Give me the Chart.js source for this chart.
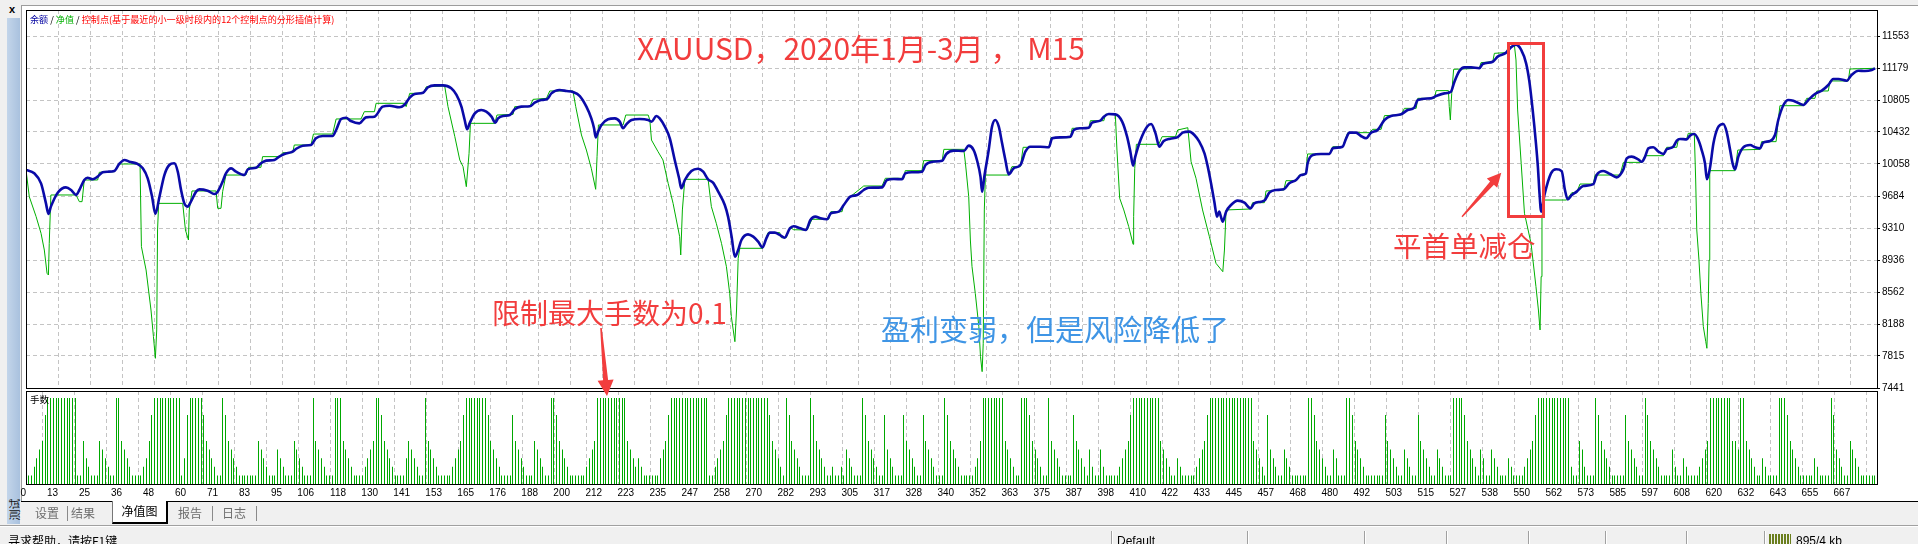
<!DOCTYPE html>
<html>
<head>
<meta charset="utf-8">
<script src="https://cdn.jsdelivr.net/npm/chart.js@4.4.1/dist/chart.umd.min.js"></script>
<style>
html, body { margin: 0; padding: 0; }
body {
  width: 1918px; height: 544px; position: relative; overflow: hidden;
  background: #f0f0f0; font-family: "Noto Sans CJK SC", "Liberation Sans", sans-serif;
}
#frame { position: absolute; left: 21px; top: 5px; width: 1897px; height: 496px; background: #fff;
  border-left: 1px solid #9c9c9c; border-top: 1px solid #9c9c9c; box-sizing: border-box; }
#closeX { position: absolute; left: 9px; top: 3px; font: bold 11px "Liberation Sans", sans-serif; color: #000; }
#sideStrip { position: absolute; left: 7px; top: 18px; width: 13px; height: 506px;
  background: linear-gradient(to right, #c3d5ea, #a9c1de); }
#sideStrip span { position: absolute; left: -6px; top: 485px; width: 26px; font-size: 11px; line-height: 13px;
  transform: rotate(-90deg); color: #111; text-align: center; }
canvas { position: absolute; left: 0; }
#equityChart { top: 0; }
#lotsChart { top: 380px; }
#legend { position: absolute; left: 30px; top: 12px; font-size: 9.1px; line-height: 14px; white-space: nowrap; }
#lotsLabel { position: absolute; left: 30px; top: 393px; font-size: 9.5px; line-height: 12px; color: #000; }
.note { position: absolute; white-space: nowrap; line-height: 1; font-family: "Noto Sans CJK SC", sans-serif; }
#redBox { position: absolute; left: 1507px; top: 42px; width: 38px; height: 176px; border: 3px solid #f23d3d; box-sizing: border-box; }
#arrows { position: absolute; left: 0; top: 0; }
#tabbar { position: absolute; left: 21px; top: 501px; width: 1897px; height: 23px; border-top: 1px solid #000; box-sizing: border-box; }
.tab { position: absolute; top: 3px; font-size: 12px; line-height: 16px; color: #6d6d6d; }
.sep { position: absolute; top: 4px; width: 1px; height: 15px; background: #8a8a8a; }
#activeTab { position: absolute; left: 91px; top: -1px; width: 56px; height: 23px; background: #fff; box-sizing: border-box;
  border-left: 1px solid #777; border-right: 2px solid #000; border-bottom: 2px solid #000;
  font-size: 12px; line-height: 20px; text-align: center; color: #000; }
#status { position: absolute; left: 0; top: 525px; width: 1918px; height: 19px; border-top: 1px solid #a0a0a0; box-shadow: inset 0 1px 0 #fff; }
.stxt { position: absolute; top: 8px; font-size: 12px; line-height: 14px; color: #000; }
.ssep { position: absolute; top: 5px; width: 1px; height: 14px; background: #a0a0a0; border-right: 1px solid #fff; }
#netIcon { position: absolute; left: 1769px; top: 8px; width: 22px; height: 11px;
  background: repeating-linear-gradient(to right, #6b7f1e 0 2px, #f0f0f0 2px 3px); }
</style>
</head>
<body>
<div id="frame"></div>
<div id="closeX">x</div>
<div id="sideStrip"><span>测试</span></div>

<canvas id="equityChart" width="1918" height="400" style="width:1918px;height:400px"></canvas>
<canvas id="lotsChart" width="1918" height="130" style="width:1918px;height:130px"></canvas>

<div id="legend"><span style="color:#0000a0">余额</span> / <span style="color:#00b000">净值</span> / <span style="color:#ff0000">控制点(基于最近的小一级时段内的12个控制点的分形插值计算)</span></div>
<div id="lotsLabel">手数</div>

<div class="note" style="left:637px;top:32px;font-size:30px;color:#f23d3d">XAUUSD，2020年1月-3月 ， M15</div>
<div class="note" style="left:492px;top:298px;font-size:28px;color:#f23d3d">限制最大手数为0.1</div>
<div class="note" style="left:881px;top:314px;font-size:29px;color:#3f95e5">盈利变弱，但是风险降低了</div>
<div class="note" style="left:1393px;top:231px;font-size:28.5px;color:#f23d3d">平首单减仓</div>
<div id="redBox"></div>
<svg id="arrows" width="1918" height="544">
  <polygon fill="#f23d3d" points="600.2,328 601.8,328 608.1,380 613.6,379.4 607,396 597.6,380.8 603.1,380.3"/>
  <polygon fill="#f23d3d" points="1461.5,216.2 1490.1,181.4 1486.8,178.4 1501.3,172.7 1497.2,187.8 1493.9,184.8 1462.5,217.2"/>
</svg>

<div id="tabbar">
  <span class="tab" style="left:14px">设置</span>
  <span class="sep" style="left:46px"></span>
  <span class="tab" style="left:50px">结果</span>
  <div id="activeTab">净值图</div>
  <span class="tab" style="left:157px">报告</span>
  <span class="sep" style="left:191px"></span>
  <span class="tab" style="left:201px">日志</span>
  <span class="sep" style="left:235px"></span>
</div>

<div id="status">
  <span class="stxt" style="left:8px">寻求帮助，请按F1键</span>
  <span class="ssep" style="left:1111px"></span>
  <span class="stxt" style="left:1117px;font-family:'Liberation Sans',sans-serif">Default</span>
  <span class="ssep" style="left:1247px"></span>
  <span class="ssep" style="left:1364px"></span>
  <span class="ssep" style="left:1446px"></span>
  <span class="ssep" style="left:1528px"></span>
  <span class="ssep" style="left:1605px"></span>
  <span class="ssep" style="left:1686px"></span>
  <span class="ssep" style="left:1764px"></span>
  <span id="netIcon"></span>
  <span class="stxt" style="left:1796px;font-family:'Liberation Sans',sans-serif">895/4 kb</span>
</div>

<script>
// axis labels as printed by the tester
const xTickLabels = [0, 13, 25, 36, 48, 60, 71, 83, 95, 106, 118, 130, 141, 153, 165, 176, 188, 200, 212, 223,
  235, 247, 258, 270, 282, 293, 305, 317, 328, 340, 352, 363, 375, 387, 398, 410, 422, 433, 445, 457,
  468, 480, 492, 503, 515, 527, 538, 550, 562, 573, 585, 597, 608, 620, 632, 643, 655, 667];
const yTickLabels = [7441, 7815, 8188, 8562, 8936, 9310, 9684, 10058, 10432, 10805, 11179, 11553];

// balance curve: [trade no, value]
const balancePoints = [
  [0,9988],[3,9949],[5.5,9832],[7.3,9598],[8.2,9474],[9.1,9560],[11.6,9723],[14.6,9785],[16.5,9754],[18.3,9696],
  [19.5,9754],[21.3,9871],[22.5,9898],[24.4,9879],[26.2,9910],[28,9961],[29.9,9968],[32.3,9976],[34.1,10058],[36,10105],
  [37.8,10085],[40.8,10058],[42.7,10007],[44.5,9891],[46.1,9676],[47.3,9474],[48.8,9676],[50.6,9929],[52.4,10046],[54.2,10066],
  [55.5,9968],[56.7,9754],[57.9,9598],[59.1,9560],[60.3,9618],[62.2,9735],[63.4,9762],[66.4,9746],[68.9,9707],[70.1,9735],
  [71.9,9852],[73.1,9949],[75,10007],[76.8,9968],[79.9,9929],[81.1,9996],[84.1,10015],[85.9,10066],[87.8,10097],[90.8,10105],
  [92.6,10144],[94.5,10175],[97.5,10202],[98.7,10233],[101.2,10272],[104.2,10280],[106,10358],[108.5,10385],[112.1,10385],[113.4,10455],
  [115.2,10584],[117,10599],[118.8,10560],[121.9,10533],[124.3,10603],[127.4,10611],[130.4,10728],[132.9,10739],[136.5,10720],[138.3,10747],
  [140.4,10837],[142.1,10876],[145.2,10891],[147,10954],[149.4,10977],[152.5,10977],[155.5,10942],[157.4,10864],[159.2,10728],[160.4,10572],
  [161.3,10463],[162.2,10533],[164.1,10650],[166.5,10689],[168.3,10669],[170.2,10611],[171.6,10541],[172.6,10591],[174.4,10619],[176.9,10630],
  [178.7,10697],[181.1,10728],[184.2,10732],[186,10774],[188.4,10806],[190.5,10813],[192.1,10883],[195.1,10922],[197.6,10911],[200,10899],
  [202.5,10852],[204.9,10728],[206.7,10591],[207.7,10475],[208.3,10369],[209.2,10436],[210.4,10514],[212.8,10580],[215.3,10591],[217.1,10553],
  [218.3,10475],[219.5,10521],[221.4,10572],[224.4,10584],[227.5,10572],[228.7,10553],[230.5,10619],[231.7,10591],[233.6,10494],[235.4,10358],
  [237.2,10105],[238.8,9891],[239.6,9774],[240.9,9871],[243.3,9976],[245.7,10003],[247.6,9968],[249.4,9879],[251.2,9840],[253.1,9735],
  [255.5,9579],[256.7,9443],[258,9209],[259.2,8975],[260.4,9053],[261.6,9170],[264,9236],[265.9,9209],[267.7,9151],[269.3,9084],
  [270.7,9190],[272,9256],[273.8,9256],[275.6,9229],[277.4,9197],[279.3,9306],[280.7,9330],[283.1,9306],[285.2,9287],[286.8,9404],
  [288.6,9443],[290.5,9423],[292.9,9412],[294.3,9482],[297.2,9501],[299,9579],[301.4,9676],[303.9,9696],[306.3,9754],[308.1,9781],
  [313,9785],[314.8,9871],[317.3,9883],[320.3,9879],[321.5,9949],[324,9961],[327.6,9968],[328.9,10046],[331.3,10085],[335,10097],
  [336.5,10175],[339.2,10214],[342.9,10210],[344.7,10272],[346.5,10221],[347.7,10105],[349,9910],[349.6,9735],[350.4,9910],[352,10221],
  [353.2,10494],[354.4,10572],[355.7,10494],[356.9,10299],[358.1,10105],[359.3,9937],[361.1,10007],[363.6,10046],[365.4,10202],[367.2,10260],
  [370.9,10260],[374,10253],[375.2,10358],[378.2,10369],[381.9,10377],[383.1,10455],[385.5,10475],[388.6,10482],[389.8,10541],[392.8,10564],
  [394.1,10611],[395.9,10642],[398.3,10638],[400.8,10553],[402.6,10377],[403.8,10202],[404.8,10039],[405.6,10144],[407.5,10338],[409.9,10494],
  [411.4,10525],[413,10416],[414.4,10260],[416,10327],[418.4,10354],[421.1,10371],[422.9,10424],[425.4,10436],[427.2,10397],[429,10319],
  [430.9,10183],[432.1,10027],[433.3,9832],[434.5,9618],[435.5,9443],[436.3,9501],[436.9,9443],[437.6,9384],[438.8,9501],[440.6,9579],
  [443,9630],[445.5,9606],[447.7,9540],[449.1,9598],[451.6,9618],[453,9637],[454.6,9723],[457.1,9754],[459.9,9762],[461.9,9832],
  [464.4,9871],[466.2,9929],[468,9949],[468.6,10066],[470.5,10163],[473.5,10175],[476.6,10175],[477.8,10241],[481.4,10260],[482.7,10358],
  [483.9,10424],[486.3,10424],[488.1,10385],[490,10358],[491.8,10424],[494.2,10455],[496.7,10572],[499.1,10619],[502.8,10638],[505.2,10689],
  [507.6,10716],[508.9,10806],[513.7,10825],[515.6,10852],[518.6,10883],[521,10903],[522.3,11020],[524.1,11144],[525.9,11187],[528.4,11187],
  [531.4,11176],[532.6,11226],[536.3,11253],[538.1,11312],[541.2,11359],[543,11421],[544.8,11452],[546.7,11390],[548.5,11234],[549.7,11020],
  [550.9,10689],[552.1,10299],[552.8,10027],[553.4,9715],[554,9501],[555.2,9696],[557.6,9949],[559.5,9996],[561.5,9974],[562.7,9754],
  [563.7,9645],[565.2,9696],[567,9735],[569.4,9801],[573.1,9824],[574.3,9929],[576.7,9976],[579.2,9941],[581.6,9902],[582.8,9929],
  [584.1,9996],[585.3,10124],[587.1,10144],[589.5,10112],[590.8,10085],[592,10144],[593.2,10241],[595,10253],[596.9,10202],[598.7,10175],
  [599.9,10229],[602.3,10260],[603.6,10331],[604.8,10350],[607.2,10346],[608.4,10389],[610,10408],[611.5,10338],[612.7,10221],[613.9,10066],
  [614.6,9879],[615.7,10007],[617,10299],[618.5,10475],[620.6,10525],[621.8,10436],[623.1,10221],[624,10066],[624.9,9996],[626.1,10144],
  [627.9,10253],[630.4,10280],[632.2,10253],[634,10241],[635.2,10307],[637.7,10327],[639.5,10397],[640.7,10572],[642.6,10747],[644.4,10806],
  [646.2,10798],[649.9,10747],[651.7,10806],[654.1,10876],[656.6,10915],[659,10981],[660.8,11051],[662.7,11051],[665.7,11031],[667.5,11098],
  [670,11148],[672.4,11144],[674.9,11156],[676.1,11176]
];

// equity curve: [trade no, value]
const equityPoints = [
  [0,9988],[1.2,9676],[3.7,9443],[5.5,9248],[6.7,9053],[7.7,8781],[8.2,8761],[8.5,9131],[9.1,9696],[18.3,9696],
  [19.5,9618],[20.5,9618],[21.3,9871],[26.2,9871],[26.8,9961],[32.3,9968],[34.1,10058],[41.7,10058],[42.2,9092],[43.9,8820],
  [45.7,8352],[46.6,8041],[47.3,7788],[47.8,8119],[48.1,9287],[48.5,9598],[57.3,9598],[58.3,9287],[59.4,9170],[59.7,9521],
  [60.7,9743],[69.5,9743],[70.1,9540],[71.3,9540],[71.9,9735],[73.1,9929],[80.4,9929],[81.4,10019],[85.9,10019],[86.5,10144],
  [92.6,10144],[93.9,10190],[97.5,10190],[98.1,10280],[104.2,10280],[105.1,10408],[112.1,10408],[113.4,10584],[122.5,10584],[123.7,10669],
  [127.4,10669],[128,10767],[138.3,10767],[139,10728],[140.3,10883],[145.2,10883],[146.4,10961],[153.1,10969],[154.3,10728],[156.8,10377],
  [158.6,10105],[159.8,10027],[161,9793],[162,10183],[162.5,10533],[171.4,10533],[172.2,10630],[178.1,10638],[178.7,10728],[184.2,10728],
  [185.4,10813],[190.3,10825],[191.5,10911],[200,10911],[201,10728],[203.1,10397],[204.9,10221],[206.7,10007],[208.3,9762],[208.8,10144],
  [209.3,10514],[218.3,10514],[219.3,10630],[227.5,10630],[228.1,10572],[228.7,10338],[231.1,10202],[232.9,10105],[234.8,9832],[236.6,9598],
  [237.8,9404],[239,9209],[239.4,8995],[240,9521],[240.9,9879],[249.4,9879],[250.6,9560],[252.4,9365],[254.3,9131],[256.1,8859],
  [257.3,8547],[257.9,8275],[259.2,7982],[259.8,8352],[260.4,8956],[261,9073],[269.3,9073],[271.3,9256],[275.6,9256],[276.2,9197],
  [278,9197],[279.3,9318],[280.7,9290],[285.6,9287],[287.4,9412],[293.5,9412],[294.3,9501],[298.4,9501],[299,9587],[301.4,9676],
  [306.3,9801],[313,9801],[314.2,9891],[320.9,9891],[321.5,9980],[327.6,9980],[328.2,10097],[335,10097],[335.6,10229],[342.9,10229],
  [343.5,10066],[344.7,9676],[345.3,9170],[345.9,8859],[347.1,8547],[348.4,8158],[349,7807],[349.6,7632],[350,7963],[350.4,9521],
  [350.8,9929],[359.3,9929],[360.5,10027],[363.6,10027],[364.6,10253],[374,10253],[374.8,10366],[381.9,10366],[382.5,10475],[388.6,10475],
  [389.2,10564],[394.1,10564],[394.7,10638],[398.3,10638],[398.9,10221],[399.9,9657],[401.4,9521],[403.2,9326],[404.8,9120],[405,9443],
  [405.4,10007],[406,10288],[414.2,10288],[415.4,10377],[420.3,10377],[421.1,10455],[424.8,10482],[426,10085],[427.8,9891],[430.2,9521],
  [432.7,9209],[435.1,8898],[437.6,8800],[438.2,9053],[438.8,9521],[447.7,9532],[448.5,9606],[452.8,9606],[453.4,9743],[459.9,9754],
  [460.7,9863],[464.4,9863],[465.6,9929],[468,9949],[468.6,10175],[476.6,10175],[477.8,10260],[481.4,10260],[483.3,10424],[491.2,10424],
  [492.4,10463],[495.5,10463],[496.7,10623],[502.8,10630],[504,10708],[508.3,10708],[508.9,10825],[515,10825],[515.6,10915],[520.1,10915],
  [520.4,10728],[520.8,10572],[521.3,10883],[522,11164],[531.4,11176],[532,11242],[536.3,11253],[536.9,11351],[541.2,11359],[541.8,11409],
  [544.2,11452],[544.8,11273],[545.4,10689],[546.7,10066],[547.9,9482],[550.3,9131],[552.1,8625],[553,8352],[553.6,8119],[554,8742],
  [554.3,9443],[555.2,9637],[563.3,9637],[565.2,9723],[567,9723],[568.2,9824],[573.1,9824],[573.7,9929],[582.8,9929],[584.1,10077],
  [590.8,10077],[592,10155],[598.7,10155],[599.9,10253],[603.6,10253],[604.2,10350],[607.2,10350],[607.8,10416],[610,10416],[610.5,9871],
  [610.9,9287],[611.7,8937],[612.4,8547],[613.3,8158],[614.2,7982],[614.6,7905],[615.1,8430],[615.4,8937],[615.6,9676],[615.7,9980],
  [624.9,9980],[625.9,10221],[634,10229],[634.6,10319],[639.9,10319],[640.7,10572],[641.3,10739],[649.9,10739],[651.1,10825],[654.1,10825],
  [654.8,10911],[659,10911],[659.6,11028],[666.3,11028],[666.9,11168],[676.1,11176]
];

// lot size of each closed trade, trade 1 .. 676
const lots = [
  0.01,0.01,0.02,0.03,0.04,0.05,0.08,
  0.1,0.1,0.1,0.1,0.1,0.1,0.1,0.1,0.1,0.1,0.1,
  0.01,0.01,0.05,0.03,0.02,0.01,0.01,0.01,0.05,0.04,0.03,0.02,0.01,0.01,
  0.1,0.1,
  0.05,0.04,0.03,0.02,0.01,0.01,0.01,0.01,0.02,0.03,0.05,0.08,
  0.1,0.1,0.1,0.1,0.1,0.1,0.1,0.1,0.1,0.1,
  0.01,0.03,0.08,
  0.1,0.1,0.1,0.1,0.1,
  0.08,0.05,0.04,0.03,0.02,0.01,0.01,0.1,0.08,
  0.05,0.04,0.03,0.02,0.01,0.01,0.01,0.01,0.01,0.01,0.01,0.05,0.04,0.03,0.02,0.01,
  0.01,0.01,0.04,0.03,0.02,0.01,0.01,0.01,0.05,0.04,0.03,0.02,0.01,0.01,0.01,
  0.1,0.05,0.04,0.03,0.02,0.01,0.01,0.01,
  0.1,0.1,0.1,
  0.05,0.04,0.03,0.02,0.01,0.01,0.01,0.01,0.02,0.03,0.04,0.05,
  0.1,0.1,
  0.08,0.05,0.04,0.03,0.02,0.01,0.01,0.01,0.01,0.03,0.05,0.04,0.03,0.02,0.01,0.01,
  0.1,0.05,0.04,0.03,0.02,0.01,0.01,0.01,0.01,0.01,0.02,0.03,0.04,0.05,0.08,
  0.1,0.1,0.1,0.1,0.1,0.1,0.1,0.1,
  0.08,0.05,0.04,0.03,0.02,0.01,0.01,0.01,0.01,0.08,0.05,0.04,0.03,0.02,
  0.01,0.01,0.01,0.05,0.04,0.03,0.02,0.01,0.01,
  0.1,0.1,0.08,
  0.05,0.04,0.03,0.02,0.01,0.01,0.01,0.01,0.01,0.01,0.02,0.03,0.04,0.05,
  0.1,0.1,0.1,0.1,0.1,0.1,0.1,0.1,0.1,0.1,0.1,
  0.05,0.04,0.03,0.02,0.03,0.02,0.01,0.01,0.01,0.01,0.01,0.01,0.03,0.04,0.05,0.08,
  0.1,0.1,0.1,0.1,0.1,0.1,0.1,0.1,0.1,0.1,0.1,0.1,0.1,0.1,
  0.01,0.01,0.02,0.03,0.04,0.05,0.08,
  0.1,0.1,0.1,0.1,0.1,0.1,0.1,0.1,0.1,0.1,0.1,0.1,0.1,0.1,0.1,
  0.08,0.05,0.04,0.03,0.02,0.01,0.1,0.08,0.05,0.04,0.03,0.02,0.01,0.01,0.01,0.1,0.08,
  0.05,0.04,0.03,0.02,0.01,0.01,0.02,0.01,0.01,0.02,0.01,0.04,0.03,0.02,0.01,0.01,0.01,
  0.1,0.08,0.05,0.04,0.03,0.02,0.01,0.01,0.08,0.04,0.03,0.02,0.01,0.01,0.01,0.08,
  0.05,0.04,0.03,0.02,0.01,0.01,0.08,0.05,0.04,0.03,0.02,0.01,0.01,0.01,0.1,0.08,
  0.05,0.04,0.03,0.02,0.01,
  0.01,0.01,0.01,0.01,0.02,0.03,0.05,
  0.1,0.1,0.1,0.1,0.1,0.1,0.1,0.1,
  0.05,0.04,0.03,0.02,0.01,0.01,
  0.1,0.1,0.1,0.08,
  0.05,0.04,0.03,0.02,0.01,0.01,0.1,0.05,0.04,0.03,0.02,0.01,0.01,0.01,0.01,0.08,
  0.05,0.04,0.03,0.02,0.01,0.04,0.02,0.01,0.01,0.04,0.02,0.01,0.01,0.01,0.01,
  0.01,0.02,0.03,0.04,0.05,0.08,
  0.1,0.1,0.1,0.1,0.1,0.1,0.1,0.1,0.1,0.1,
  0.05,0.04,0.03,0.02,0.01,0.01,0.03,0.02,0.01,0.01,0.01,0.01,0.01,0.02,0.03,0.04,0.05,0.08,
  0.1,0.1,0.1,0.1,0.1,0.1,0.1,0.1,0.1,0.1,0.1,0.1,0.1,0.1,0.1,0.1,
  0.05,0.04,0.03,0.02,0.01,0.08,0.04,0.03,0.02,
  0.01,0.01,0.04,0.03,0.02,0.01,0.01,0.01,0.01,0.01,0.01,
  0.1,0.1,0.08,
  0.05,0.04,0.03,0.02,0.01,0.01,0.04,0.03,0.01,0.01,0.01,
  0.1,0.1,0.08,
  0.05,0.04,0.03,0.02,0.01,0.01,0.01,0.01,0.01,0.01,0.01,0.08,
  0.05,0.04,0.03,0.02,0.01,0.01,0.04,0.03,0.02,0.01,0.01,0.08,
  0.05,0.04,0.03,0.02,0.01,0.01,0.04,0.03,0.02,0.01,0.01,0.01,
  0.1,0.1,0.1,0.1,0.08,
  0.05,0.04,0.03,0.02,0.01,0.04,0.03,0.01,0.01,0.04,0.03,0.02,0.01,
  0.01,0.01,0.03,0.02,0.01,0.01,0.01,0.01,0.02,0.03,0.04,0.05,0.08,
  0.1,0.1,0.1,0.1,0.1,0.1,0.1,0.1,0.1,0.1,0.1,0.1,
  0.02,0.01,0.01,0.05,0.04,0.02,0.01,0.01,0.01,
  0.1,0.08,
  0.05,0.04,0.03,0.02,0.01,0.01,0.01,0.01,0.01,0.08,0.05,0.04,0.03,0.02,0.01,0.01,
  0.1,0.08,
  0.05,0.04,0.03,0.02,0.01,0.01,0.01,0.01,0.04,0.02,0.01,0.01,0.03,0.02,0.01,0.01,0.01,
  0.01,0.02,0.03,0.04,0.05,
  0.1,0.1,0.1,0.1,0.1,0.1,0.1,0.1,
  0.05,0.05,0.04,
  0.1,0.1,
  0.05,0.04,0.03,0.02,0.01,0.01,0.03,0.02,0.01,0.01,0.01,0.01,
  0.1,0.1,0.1,
  0.08,0.05,0.04,0.03,0.02,0.01,0.01,0.01,0.01,0.01,0.03,0.02,0.01,0.01,0.01,0.01,
  0.1,0.08,0.04,0.03,0.02,0.01,0.01,0.05,0.04,0.03,0.02,
  0.01,0.01,0.01,0.01,0.01,0.01
];

Chart.defaults.font.family = "'Liberation Sans', sans-serif";
Chart.defaults.font.size = 10;
Chart.defaults.color = '#000';

const gridColor = '#c4c4c4';
const xMax = 676.8;
const tickStep = xTickLabels[xTickLabels.length - 1] / (xTickLabels.length - 1);

// black frame round each plot area, like the tester window
const framePlugin = {
  id: 'frame',
  afterDraw(chart) {
    const { ctx, chartArea: a } = chart;
    ctx.save();
    ctx.strokeStyle = '#000';
    ctx.lineWidth = 1;
    ctx.strokeRect(Math.round(a.left) + 0.5, Math.round(a.top) + 0.5,
      Math.round(a.right - a.left), Math.round(a.bottom - a.top));
    ctx.restore();
  }
};

// snap the 1px lot bars onto whole pixels so they stay crisp
const crispBars = {
  id: 'crispBars',
  beforeDatasetsDraw(chart) {
    chart.getDatasetMeta(0).data.forEach(bar => {
      bar.x = Math.floor(bar.x) + 0.5;
    });
  }
};

const xGridTicks = scale => {
  scale.ticks = xTickLabels.map((_, i) => ({ value: i * tickStep }));
};

// equity / balance chart
new Chart(document.getElementById('equityChart'), {
  type: 'line',
  data: {
    datasets: [
      {
        label: '余额',
        data: balancePoints.map(p => ({ x: p[0], y: p[1] })),
        borderColor: '#0a0aa8',
        borderWidth: 2.6,
        pointRadius: 0,
        cubicInterpolationMode: 'monotone'
      },
      {
        label: '净值',
        data: equityPoints.map(p => ({ x: p[0], y: p[1] })),
        borderColor: '#00b000',
        borderWidth: 1,
        pointRadius: 0,
        tension: 0
      }
    ]
  },
  options: {
    responsive: false,
    animation: false,
    events: [],
    layout: { padding: { left: 26, top: 10, right: 0, bottom: 12 } },
    plugins: { legend: { display: false }, tooltip: { enabled: false } },
    scales: {
      x: {
        type: 'linear', min: 0, max: xMax,
        afterBuildTicks: xGridTicks,
        ticks: { display: false },
        grid: { color: gridColor, drawTicks: false },
        border: { display: false, dash: [4, 3] }
      },
      y: {
        position: 'right', min: 7441, max: 11857,
        afterBuildTicks: scale => { scale.ticks = yTickLabels.map(v => ({ value: v })); },
        afterFit: scale => { scale.width = 41; },
        ticks: { padding: 2, autoSkip: false, callback: (v, i) => String(yTickLabels[i]) },
        grid: { color: gridColor, tickLength: 3, tickColor: '#000' },
        border: { display: false, dash: [4, 3] }
      }
    }
  },
  plugins: [framePlugin]
});

// lot size panel
new Chart(document.getElementById('lotsChart'), {
  type: 'bar',
  data: {
    datasets: [{
      label: '手数',
      data: lots.map((v, i) => ({ x: i + 1, y: v })),
      backgroundColor: '#00a800',
      barThickness: 1,
      inflateAmount: 0,
      grouped: false
    }]
  },
  options: {
    responsive: false,
    animation: false,
    events: [],
    layout: { padding: { left: 26, top: 11, right: 41, bottom: 0 } },
    plugins: { legend: { display: false }, tooltip: { enabled: false } },
    scales: {
      x: {
        type: 'linear', min: 0, max: xMax, offset: false,
        afterBuildTicks: xGridTicks,
        afterFit: scale => { scale.height = 26; },
        ticks: { align: 'end', padding: 3, autoSkip: false, maxRotation: 0, callback: (v, i) => String(xTickLabels[i]) },
        grid: { color: gridColor, drawTicks: false },
        border: { display: false, dash: [4, 3] }
      },
      y: { display: false, min: 0, max: 0.108 }
    }
  },
  plugins: [crispBars, framePlugin]
});
</script>
</body>
</html>
